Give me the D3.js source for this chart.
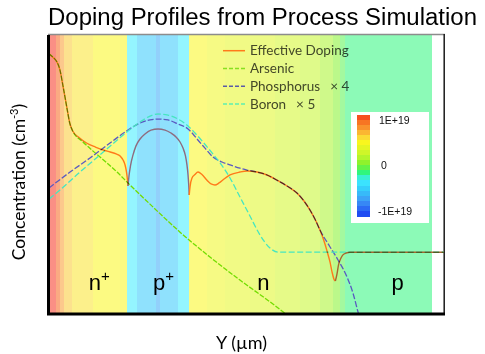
<!DOCTYPE html>
<html>
<head>
<meta charset="utf-8">
<script src="https://cdn.jsdelivr.net/npm/d3@7"></script>
<style>
  body { margin: 0; background: #fff; }
  svg { display: block; }
</style>
</head>
<body>
<svg id="chart" width="485" height="354"></svg>
<script>
// Depth profiles: [depth (µm), concentration (cm^-3)]
const effDoping = [
  [0.00,4.6e19],[0.04,4.0e19],[0.08,3.3e19],[0.11,2.4e19],[0.14,1.27e19],[0.18,5.1e18],[0.21,2.65e18],
  [0.24,1.9e18],[0.31,1.43e18],[0.38,1.16e18],[0.47,9.8e17],[0.55,8.7e17],[0.62,8.0e17],[0.68,7.4e17],
  [0.72,6.8e17],[0.75,5.75e17],[0.77,4.7e17],[0.785,3.5e17],[0.795,2.5e17],[0.80,1.97e17],
  [0.81,2.97e17],[0.825,4.5e17],[0.851,7.1e17],[0.881,1.03e18],[0.922,1.37e18],[0.972,1.68e18],
  [1.033,1.98e18],[1.104,2.07e18],[1.175,1.98e18],[1.235,1.75e18],[1.286,1.49e18],[1.327,1.21e18],
  [1.357,9.4e17],[1.382,6.8e17],[1.397,4.7e17],[1.408,3.1e17],[1.415,2.05e17],[1.42,1.36e17],
  [1.428,1.89e17],[1.448,2.74e17],[1.478,3.16e17],[1.509,3.5e17],[1.549,3.16e17],[1.600,2.5e17],
  [1.641,2.14e17],[1.681,2.05e17],[1.722,2.23e17],[1.772,2.62e17],[1.833,3.1e17],[1.934,3.5e17],
  [2.005,3.65e17],[2.106,3.5e17],[2.208,3.1e17],[2.309,2.5e17],[2.410,1.97e17],[2.511,1.47e17],
  [2.582,1.06e17],[2.643,7.3e16],[2.694,5.0e16],[2.744,3.2e16],[2.785,2.03e16],[2.815,1.35e16],
  [2.846,8.5e15],[2.866,5.7e15],[2.886,4.2e15],[2.90,3.9e15],
  [2.916,5.2e15],[2.932,7.6e15],[2.957,1.01e16],[2.987,1.19e16],[3.048,1.28e16],[4.0,1.28e16]
];
const arsenic = [
  [0.00,4.6e19],[0.04,4.0e19],[0.08,3.3e19],[0.11,2.4e19],[0.14,1.27e19],[0.18,5.1e18],[0.21,2.65e18],
  [0.24,1.9e18],[0.344,1.21e18],[0.446,8.3e17],[0.587,5.1e17],[0.689,3.5e17],[0.80,2.23e17],
  [1.02,9.4e16],[1.33,2.9e16],[1.63,1.05e16],[1.93,4.1e15],[2.24,1.64e15],[2.54,6.4e14]
];
const phosphorusX4 = [
  [0.00,1.81e17],[0.213,3.5e17],[0.415,6.25e17],[0.618,1.16e18],[0.80,1.98e18],[0.922,2.65e18],
  [1.023,3.0e18],[1.104,3.12e18],[1.205,3.0e18],[1.306,2.54e18],[1.408,2.07e18],[1.458,1.68e18],
  [1.499,1.37e18],[1.580,9.4e17],[1.661,6.5e17],[1.752,5.3e17],[1.833,4.7e17],[1.934,4.1e17],
  [2.005,3.8e17],[2.106,3.5e17],[2.208,3.1e17],[2.309,2.5e17],[2.410,1.97e17],[2.511,1.47e17],
  [2.582,1.06e17],[2.643,7.3e16],[2.694,5.0e16],[2.744,3.2e16],[2.846,1.59e16],[2.927,9.3e15],
  [3.018,4.6e15],[3.078,2.38e15],[3.129,1.09e15],[3.170,6.1e14]
];
const boronX5 = [
  [0.00,1.15e17],[0.111,1.67e17],[0.314,3.5e17],[0.516,7.1e17],[0.668,1.21e18],[0.80,1.9e18],
  [0.922,2.76e18],[1.023,3.53e18],[1.104,3.84e18],[1.205,3.68e18],[1.306,3.12e18],[1.408,2.34e18],
  [1.478,1.75e18],[1.559,1.21e18],[1.651,7.7e17],[1.732,5.1e17],[1.833,2.74e17],[1.934,1.25e17],
  [2.035,5.7e16],[2.137,2.6e16],[2.238,1.52e16],[2.319,1.28e16],[2.441,1.28e16],[4.0,1.28e16]
];

// Metallurgical junctions (µm) and the region types between them
const junctions = [0.80, 1.42, 2.90];
const regionName = ["n", "p", "n", "p"];
const regionSup = ["+", "+", "", ""];
const regionLabelAt = [0.51, 1.16, 2.17, 3.53];

// Net-doping colour strips: start depth (µm) and normalised level (-1 … 1)
const bandStart = [0, 0.071, 0.111, 0.152, 0.233, 0.446, 0.790, 0.891, 1.084, 1.124, 1.306, 1.418,
                   1.600, 1.782, 2.035, 2.289, 2.542, 2.744, 2.876, 2.947, 2.997];
const bandLevel = [1.0, 0.9, 0.72, 0.6, 0.52, 0.45, -0.3, -0.48, -0.62, -0.48, -0.3, 0.45,
                   0.4, 0.36, 0.32, 0.26, 0.2, 0.12, 0.02, -0.07, -0.15];
const bandEnd = 3.87;

// Colour bar
const colorbarTicks = [1e19, 0, -1e19];
const colorbarTickText = ["1E+19", "0", "-1E+19"];

// Legend
const legendNames = ["Effective Doping", "Arsenic", "Phosphorus", "Boron"];
const legendFactor = ["", "", "× 4", "× 5"];

// ---------------------------------------------------------------
const svg = d3.select("#chart");
const box = { left: 49, right: 444, top: 35, bottom: 314 };

const x = d3.scaleLinear().domain([0, 4]).range([box.left, box.right]);
const y = d3.scaleLog().domain([1e15, 1e20]).range([box.bottom, box.top]);

const levelColor = d3.scaleLinear()
  .domain([-1, -0.7, -0.48, -0.3, -0.15, 0, 0.2, 0.45, 0.55, 0.72, 0.9, 1])
  .range(["#0028f0", "#288cf5", "#1ec3fa", "#28ebff", "#19f56e", "#6ef014", "#bef514",
          "#f8f505", "#f9d71e", "#f99119", "#f55505", "#f51e0a"])
  .clamp(true);
const tint = v => d3.interpolateRgb("#ffffff", levelColor(v))(0.5);

svg.append("defs").append("clipPath").attr("id", "plotClip")
  .append("rect")
  .attr("x", box.left).attr("y", box.top)
  .attr("width", box.right - box.left).attr("height", box.bottom - box.top);

// colour strips
svg.append("g").attr("shape-rendering", "crispEdges")
  .selectAll("rect").data(bandStart).join("rect")
  .attr("x", d => x(d))
  .attr("y", box.top)
  .attr("width", (d, i) => x(i + 1 < bandStart.length ? bandStart[i + 1] : bandEnd) - x(d) + 0.5)
  .attr("height", box.bottom - box.top)
  .attr("fill", (d, i) => tint(bandLevel[i]));

// frame: grey top, dark right
svg.append("line").attr("x1", box.left - 1).attr("x2", box.right + 1)
  .attr("y1", box.top - 0.5).attr("y2", box.top - 0.5)
  .attr("stroke", "#8c8c8c").attr("stroke-width", 1.5);
svg.append("line").attr("x1", box.right + 0.2).attr("x2", box.right + 0.2)
  .attr("y1", box.top - 1).attr("y2", box.bottom)
  .attr("stroke", "#1a1a1a").attr("stroke-width", 1.5);

// region labels
const labels = svg.append("g")
  .attr("font-family", "'Liberation Sans', Arial, sans-serif")
  .attr("font-size", 22).attr("fill", "#000");
regionName.forEach((nm, i) => {
  const t = labels.append("text")
    .attr("x", x(regionLabelAt[i])).attr("y", 290)
    .attr("text-anchor", "middle");
  t.append("tspan").text(nm);
  if (regionSup[i]) t.append("tspan").attr("font-size", 15).attr("dy", -9).text(regionSup[i]);
});

// curves
const line = d3.line().x(d => x(d[0])).y(d => y(d[1])).curve(d3.curveMonotoneX);
const plot = svg.append("g").attr("clip-path", "url(#plotClip)");

const bounds = [-Infinity, ...junctions, Infinity];
const segColor = ["#ff7a1a", "#8e6c80", "#ff7a1a", "#a8662e"];
regionName.forEach((nm, i) => {
  const seg = effDoping.filter(d => d[0] >= bounds[i] && d[0] <= bounds[i + 1]);
  plot.append("path").attr("d", line(seg))
    .attr("fill", "none").attr("stroke", segColor[i]).attr("stroke-width", 1.4);
});

const dopants = plot.append("g").style("mix-blend-mode", "multiply");
dopants.append("path").attr("d", line(arsenic)).attr("fill", "none")
  .attr("stroke", "#72dc00").attr("stroke-width", 1.3).attr("stroke-dasharray", "5,1.5");
dopants.append("path").attr("d", line(phosphorusX4)).attr("fill", "none")
  .attr("stroke", "#5a5ac0").attr("stroke-width", 1.3).attr("stroke-dasharray", "6,2");
dopants.append("path").attr("d", line(boronX5)).attr("fill", "none")
  .attr("stroke", "#46e6c0").attr("stroke-width", 1.3).attr("stroke-dasharray", "6,2.5");

// axes (no ticks, just the heavy left and bottom lines)
const axL = svg.append("g").attr("transform", `translate(${box.left - 0.5},0)`)
  .call(d3.axisLeft(y).tickValues([]).tickSizeOuter(0));
const axB = svg.append("g").attr("transform", `translate(0,${box.bottom})`)
  .call(d3.axisBottom(x).tickValues([]).tickSizeOuter(0));
[axL, axB].forEach(a => a.select(".domain").attr("stroke", "#000").attr("stroke-width", 3));
axB.select(".domain").attr("d", `M${box.left - 2},0H${box.right + 1}`);
axL.select(".domain").attr("d", `M0,${box.top}V${box.bottom + 1}`);

// legend
const legendRowY = d3.scalePoint().domain(legendNames).range([50.7, 104]);
const legStroke = ["#ff7a1a", "#88e020", "#5a5aa8", "#5ef0b0"];
const legDash = [null, "4,2", "4,2", "4,2"];
const leg = svg.append("g");
legendNames.forEach((nm, i) => {
  const yy = legendRowY(nm);
  leg.append("line").attr("x1", 223).attr("x2", 245).attr("y1", yy).attr("y2", yy)
    .attr("stroke", legStroke[i]).attr("stroke-width", 1.5)
    .attr("stroke-dasharray", legDash[i]);
  const t = leg.append("text").attr("x", 250).attr("y", yy + 4.6)
    .attr("font-family", "Lato, 'Open Sans', sans-serif").attr("font-size", 13.5)
    .attr("fill", "#4a4a4a").style("mix-blend-mode", "multiply");
  t.append("tspan").text(nm);
  if (legendFactor[i]) t.append("tspan").attr("dx", 10).text(legendFactor[i]);
});

// colour bar
const cb = svg.append("g");
cb.append("rect").attr("x", 351).attr("y", 112).attr("width", 78).attr("height", 111).attr("fill", "#fff");
const cbY = d3.scaleLinear().domain([-1e19, 1e19]).range([211, 120]);
const steps = d3.range(20);
const stepY = d3.scaleLinear().domain([0, 20]).range([114.5, 216]);
cb.append("g").attr("shape-rendering", "crispEdges")
  .selectAll("rect").data(steps).join("rect")
  .attr("x", 357).attr("width", 13)
  .attr("y", d => stepY(d)).attr("height", d => stepY(d + 1) - stepY(d) + 0.6)
  .attr("fill", d => d3.interpolateRgb("#ffffff", levelColor(1 - 2 * (d + 0.5) / 20))(0.9));
cb.selectAll("text").data(colorbarTicks).join("text")
  .attr("x", (d, i) => i === 2 ? 378 : (i === 1 ? 381 : 379))
  .attr("y", d => cbY(d) + 3.8)
  .attr("font-family", "'Liberation Sans', Arial, sans-serif").attr("font-size", 10.5)
  .attr("fill", "#111")
  .text((d, i) => colorbarTickText[i]);

// titles
svg.append("text").attr("x", 262.5).attr("y", 25).attr("text-anchor", "middle")
  .attr("font-family", "'Liberation Sans', Arial, sans-serif").attr("font-size", 23)
  .attr("textLength", 429).attr("lengthAdjust", "spacingAndGlyphs")
  .attr("fill", "#000").text("Doping Profiles from Process Simulation");

svg.append("text").attr("x", 241.5).attr("y", 349).attr("text-anchor", "middle")
  .attr("font-family", "Lato, 'Open Sans', sans-serif").attr("font-size", 18)
  .attr("fill", "#000").text("Y (µm)");

const yl = svg.append("text")
  .attr("transform", "translate(25,182) rotate(-90)")
  .attr("text-anchor", "middle")
  .attr("font-family", "Lato, 'Open Sans', sans-serif").attr("font-size", 17.5)
  .attr("fill", "#000");
yl.append("tspan").text("Concentration (cm");
yl.append("tspan").attr("font-size", 11).attr("dy", -7).text("-3");
yl.append("tspan").attr("dy", 7).text(")");
</script>
</body>
</html>
